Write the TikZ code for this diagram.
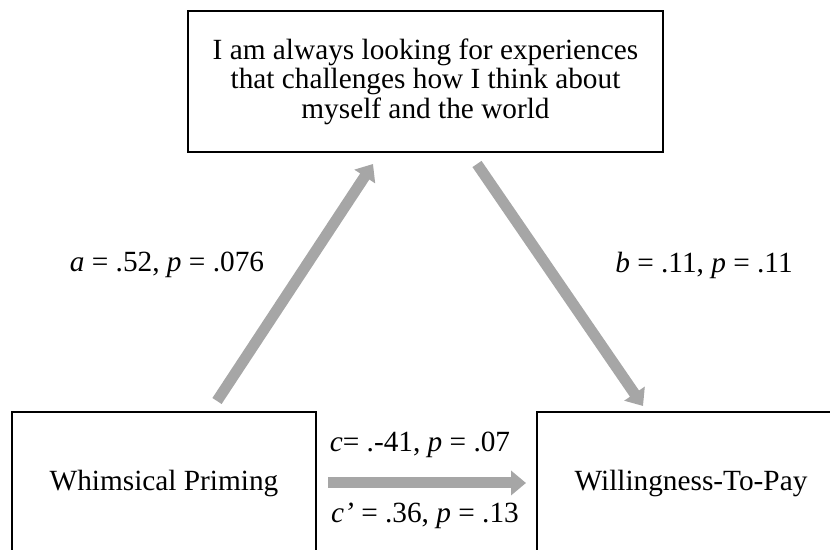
\documentclass[tikz,border=0pt]{standalone}
\usepackage{fontspec}
\setmainfont{Liberation Serif}
\usepackage{xcolor}
\usepackage{tikz}
\usetikzlibrary{positioning,arrows.meta,shapes}

\definecolor{arrowgray}{RGB}{166,166,166}

\begin{document}
\begin{tikzpicture}[
    x=0.5pt, y=0.5pt,
    every node/.style={font=\fontsize{14.65pt}{14.75pt}\selectfont},
    varbox/.style={draw, line width=1pt, align=center, inner sep=0pt},
    patharrow/.style={draw=arrowgray, line width=5.5pt, -{Triangle[length=7.5pt, width=12pt]}, arrowgray},
    coef/.style={inner sep=0pt}
]
\useasboundingbox (0,0) rectangle (830,550);
\clip (0,0) rectangle (830,550);
\node[varbox, minimum width=237.5pt, minimum height=70.5pt] (stm) at (425.5,468.5)
    {I am always looking for experiences\\that challenges how I think about\\myself and the world};
\node[varbox, minimum width=152pt, minimum height=72pt] (wp) at (164,66) {Whimsical Priming};
\node[varbox, minimum width=154pt, minimum height=72pt] (wtp) at (691,66) {Willingness-To-Pay};

\draw[patharrow] ([shift={(53,10)}]wp.north) -- ([shift={(-52.5,-11)}]stm.south);
\draw[patharrow] ([shift={(51.5,-11)}]stm.south) -- ([shift={(-48,5)}]wtp.north);
\draw[patharrow] ([shift={(11,1)}]wp.east) -- ([shift={(-10,1)}]wtp.west);

\node[coef] (ca) at (167,285) {\textit{a} = .52, \textit{p} = .076};
\node[coef] (cb) at (704,285) {\textit{b} = .11, \textit{p} = .11};
\node[coef] (cc) at (420,105) {\textit{c}= .-41, \textit{p} = .07};
\node[coef] (ccp) at (425,34) {\textit{c’} = .36, \textit{p} = .13};
\end{tikzpicture}
\end{document}
